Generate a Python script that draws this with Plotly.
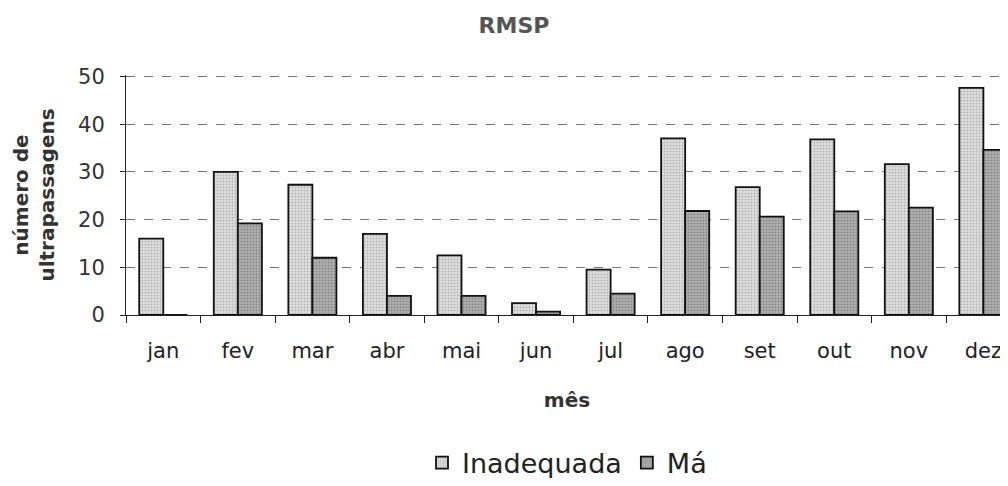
import plotly.graph_objects as go

meses = ["jan", "fev", "mar", "abr", "mai", "jun", "jul", "ago", "set", "out", "nov", "dez"]
inadequada = [16, 30, 27.3, 17, 12.5, 2.5, 9.5, 37, 26.8, 36.8, 31.6, 47.6]
ma = [0, 19.2, 12, 4, 4, 0.7, 4.5, 21.8, 20.6, 21.7, 22.5, 34.6]

FONT = "DejaVu Sans, Arial, sans-serif"

fig = go.Figure()
fig.add_trace(go.Bar(
    name="Inadequada", x=meses, y=inadequada,
    marker=dict(color="#d0d0d0", line=dict(color="#111", width=1.8),
                pattern=dict(shape=".", fgcolor="#8a8a8a", bgcolor="#dedede", size=3, solidity=0.3)),
))
fig.add_trace(go.Bar(
    name="Má", x=meses, y=ma,
    marker=dict(color="#9c9c9c", line=dict(color="#111", width=1.8),
                pattern=dict(shape=".", fgcolor="#5e5e5e", bgcolor="#b0b0b0", size=3, solidity=0.35)),
))

fig.update_layout(
    width=1000, height=470,
    margin=dict(l=118, r=0, t=67, b=163, autoexpand=False),
    paper_bgcolor="white", plot_bgcolor="white",
    barmode="group", bargap=0.355, bargroupgap=0,
    font=dict(family=FONT, color="#222"),
    title=dict(text="<b>RMSP</b>", x=0.506, xref="container", xanchor="center",
               y=0.964, yref="container", yanchor="middle",
               font=dict(size=22, color="#555", family=FONT)),
    showlegend=True,
    legend=dict(orientation="h", x=0.5, xanchor="center", y=-0.617, yanchor="middle",
                font=dict(size=27, color="#222", family=FONT), itemwidth=30,
                bgcolor="rgba(0,0,0,0)"),
)
fig.update_xaxes(
    type="category", range=[-0.5, 11.33],
    showline=True, linecolor="#222", linewidth=1,
    ticks="outside", tickson="boundaries", ticklen=7, tickcolor="#222",
    tickfont=dict(size=21, color="#222"), ticklabelstandoff=17,
    showgrid=False,
    title=dict(text="<b>mês</b>", font=dict(size=20, color="#333"), standoff=30),
)
fig.update_yaxes(
    range=[0, 50.3], dtick=10,
    showline=True, linecolor="#222", linewidth=1,
    ticks="outside", ticklen=5, tickcolor="#222",
    tickfont=dict(size=21, color="#333"), ticklabelstandoff=11,
    showgrid=True, gridcolor="#777", griddash="dash", gridwidth=1,
    zeroline=False,
    title=dict(text="<b>número de<br>ultrapassagens</b>", font=dict(size=20, color="#333"), standoff=18),
)

fig.write_html("out.html")
